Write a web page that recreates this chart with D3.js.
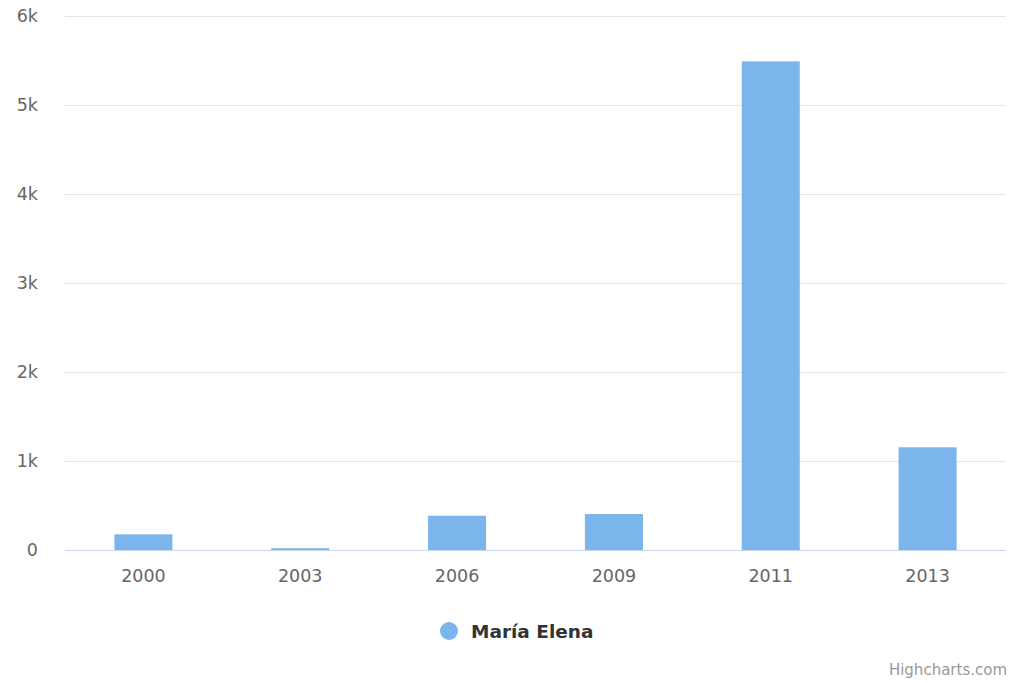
<!DOCTYPE html>
<html><head><meta charset="utf-8">
<script src="https://cdn.jsdelivr.net/npm/d3@7"></script>
<style>body{margin:0;background:#fff}svg{display:block;font-family:"DejaVu Sans",sans-serif}</style>
</head><body><svg id="c" width="1024" height="683"></svg>
<script>
const categories = ["2000","2003","2006","2009","2011","2013"];
const values = [176, 20, 385, 404, 5490, 1154];
const seriesName = "María Elena";
const yTicks = [0,1000,2000,3000,4000,5000,6000];
const yTickLabels = ["0","1k","2k","3k","4k","5k","6k"];

const svg = d3.select("#c");
const L=65,R=1006,T=16,B=550;
const x = d3.scaleBand().domain(categories).range([L,R]).paddingInner(0.63).paddingOuter(0.315);
const y = d3.scaleLinear().domain([0,6000]).range([B,T]);

const g = svg.append("g");
g.selectAll("line.grid").data(yTicks.slice(1)).join("line")
 .attr("x1",L).attr("x2",R).attr("y1",d=>Math.round(y(d))+0.5).attr("y2",d=>Math.round(y(d))+0.5)
 .attr("stroke","#e6e6e6").attr("stroke-width",1);
g.selectAll("text.yl").data(yTicks).join("text")
 .attr("x",38).attr("y",d=>y(d)+6).attr("text-anchor","end")
 .attr("font-size",17.5).attr("fill","#666").text((d,i)=>yTickLabels[i]);

g.selectAll("rect").data(values).join("rect")
 .attr("x",(d,i)=>x(categories[i])).attr("width",x.bandwidth())
 .attr("y",d=>y(d)).attr("height",d=>B-y(d)).attr("fill","#7cb5ec");

g.append("line").attr("x1",L).attr("x2",R).attr("y1",B+0.5).attr("y2",B+0.5).attr("stroke","#ccd6eb");
g.selectAll("text.xl").data(categories).join("text")
 .attr("x",d=>x(d)+x.bandwidth()/2).attr("y",582).attr("text-anchor","middle")
 .attr("font-size",17.5).attr("fill","#666").text(d=>d);

const leg = svg.append("g");
leg.append("circle").attr("cx",449).attr("cy",631).attr("r",9).attr("fill","#7cb5ec");
leg.append("text").attr("x",471).attr("y",638).attr("font-size",18.5).attr("font-weight","bold").attr("fill","#333").text(seriesName);

svg.append("text").attr("x",1007).attr("y",675).attr("text-anchor","end").attr("font-size",15).attr("fill","#999").text("Highcharts.com");
</script></body></html>
